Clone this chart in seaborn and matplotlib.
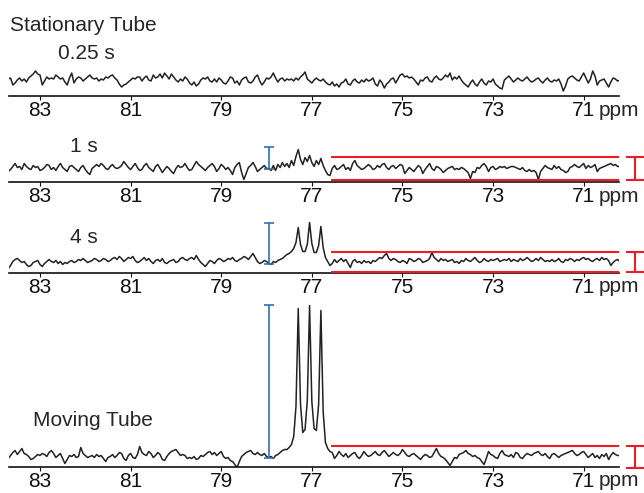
import numpy as np
import pandas as pd
import matplotlib.pyplot as plt
import seaborn as sns

# chemical shift grid (ppm), 83.70 -> 70.20 in 0.05 ppm steps (271 points)
ppm = np.round(np.arange(83.70, 70.19, -0.05), 2)

# intensities (arbitrary units, 0 = baseline), one row = 0.5 ppm
trace_025s = [
    1, 2, -5, -3, 0, 2, -1, 1, -2, 2,
    4, 6, 9, 6, 5, -5, -1, 3, 1, 2,
    1, 5, 3, 1, 2, -2, -5, 2, 7, -3,
    1, 3, 2, -1, 1, 3, 5, 2, 1, 2,
    -1, 1, 0, 3, 2, 4, 5, 2, 0, -4,
    -7, -5, -4, -2, 0, 2, 1, 3, 3, -1,
    2, 4, 0, -1, 5, 2, 3, 6, 2, 7,
    4, 1, 6, 3, 0, -2, 1, -1, 3, 1,
    -3, -5, -2, -6, -4, 0, 2, 1, 3, -1,
    -2, 1, -2, 2, 0, -3, -4, -1, 3, 2,
    -3, -1, -5, 0, 2, 3, -2, -3, -1, 3,
    5, -1, -5, -2, 2, 1, 3, 7, 2, -2,
    1, 2, -1, 1, 0, 1, -1, 2, 0, 3,
    5, 8, 1, -1, -3, 0, 2, 0, -1, 1,
    -2, -4, -5, -2, -6, -4, -7, -3, -2, 1,
    -4, -5, -1, 1, -2, -3, 0, -2, 1, -1,
    0, 2, -4, -6, 0, -3, -8, -4, -2, 1,
    2, -3, 1, 5, 6, 3, 4, 2, 3, 1,
    -2, -5, 0, -1, 2, 3, -1, -2, 2, 4,
    1, 0, 2, 5, 3, 7, 0, 3, 1, 4,
    0, -3, -5, -7, -3, 0, -4, -6, -2, 1,
    -3, -5, -1, -2, 1, -4, -6, -8, -9, 0,
    2, 4, 1, -2, 0, 2, 0, -1, 1, 3,
    0, -2, -1, 1, 2, -1, -3, 0, 2, -1,
    -2, 0, -1, 1, -4, -11, -6, 1, 3, 4,
    2, 0, -1, 3, 7, 2, -3, 1, 9, 4,
    -5, -1, 0, 1, -3, -7, -2, 2, 1, -1,
    0,
]
trace_1s = [
    -3, -1, 2, 5, 1, 2, -1, 5, 2, 0,
    -1, 3, 1, 2, -2, -1, 1, 4, 3, -1,
    1, -2, 2, 5, 1, -1, -3, 2, 3, 1,
    -1, -3, 1, 3, -1, -4, -6, 0, 2, 4,
    2, 5, 3, 0, -1, 2, 4, 1, 0, 1,
    3, 7, 4, 1, -1, 2, 5, 1, -2, -1,
    3, 5, 1, -1, -3, 2, 4, 0, -4, -1,
    2, 0, -3, -5, 0, 3, 1, 2, 5, 1,
    -2, -1, 3, 7, 4, 2, 0, -2, 1, 3,
    5, 2, -3, 0, 4, 2, -1, 1, -2, -6,
    1, 4, 6, -4, -11, -5, 1, 3, 6, 2,
    -3, -1, 1, 3, 0, 0, -2, 3, -2, 4,
    1, 6, 2, 5, 1, 8, 3, 12, 19, 9,
    4, 11, 7, 13, 6, 2, 8, 4, 10, 3,
    -2, -6, -7, 0, 3, -1, 0, 2, 4, -1,
    1, -2, 5, 8, 3, 1, -1, 0, 2, 4,
    2, -1, 0, 3, 1, 4, 5, 1, -1, 2,
    3, 0, 2, 4, 3, -5, -2, 1, -1, -3,
    0, 3, 1, -5, -1, 2, 5, 0, -2, 2,
    1, -1, -4, -2, 0, 1, 2, -1, 0, -1,
    1, 0, -2, -4, -10, -3, -4, 1, 0, 3,
    5, 2, -3, 1, 2, -1, 0, 2, 1, 2,
    0, 1, 2, 2, 1, 0, -1, 1, -2, -3,
    -1, -3, -2, -4, -11, -3, 0, 3, 1, 0,
    -1, 3, 0, 2, -1, -2, -4, -3, 1, 2,
    4, 2, 1, 3, 5, 0, 3, 1, 2, 4,
    -3, 0, 1, 2, 3, 4, 5, 3, 4, 2,
    2,
]
trace_4s = [
    -7, -4, 0, 2, 3, 1, -1, 0, -3, -5,
    -4, -1, 0, 1, -3, -5, -2, 0, 2, 0,
    -1, 1, -2, 0, -3, -1, -2, 0, 1, -1,
    0, 2, 1, 3, 1, -1, 0, 1, 3, 2,
    0, 1, 3, 2, 0, 1, 3, 4, 2, 5,
    3, 0, 2, 4, 3, 5, 1, -1, 0, 2,
    4, 1, 3, 0, -2, 1, 2, 0, 3, -1,
    -2, 0, 1, 2, -1, 0, 3, 4, 2, 1,
    3, 4, 2, 6, 2, -1, -3, -5, -2, 1,
    0, -2, 1, 3, 2, 0, 1, 3, 2, 4,
    1, 0, 2, 3, 5, 4, 2, 5, 8, 4,
    0, -2, -1, 1, 0, -2, -3, 0, -1, 1,
    2, 3, 5, 7, 8, 10, 13, 19, 34, 17,
    10, 10, 17, 39, 18, 9, 9, 16, 35, 14,
    4, 0, -4, -2, 2, -1, 1, 3, 0, 2,
    -2, -6, 0, 2, -1, 0, -2, 1, -1, 0,
    -2, 1, 0, 2, 4, 3, 6, 8, 3, 1,
    3, 2, 0, -1, 1, 0, -2, 3, 2, 0,
    1, 3, 2, -1, 0, 1, 3, 9, 4, 2,
    0, 3, 1, 2, 0, 1, 2, -1, 0, -2,
    1, 0, 3, 1, 0, 2, 4, 1, -1, 0,
    3, 1, 0, 2, 1, 2, 3, 0, 1, 2,
    1, 3, 0, 2, 1, 0, 3, 1, 2, 4,
    2, 0, 1, 3, 1, 4, 2, 0, 1, 0,
    2, 0, 1, 3, 0, -1, 2, 1, 3, 2,
    0, 2, 1, 3, 4, 2, 3, 1, 0, 2,
    3, 1, 4, 2, 3, 1, -4, -1, 1, 2,
    0,
]
trace_moving = [
    -2, 1, 4, 6, 2, 5, 8, 3, 2, 0,
    -3, -2, 0, 2, 1, 3, 2, 0, 4, 6,
    3, -1, 1, 3, -2, -7, -3, 1, 0, 2,
    -1, 0, 9, 3, 1, -1, 0, 1, -1, 2,
    0, 1, -2, -5, -1, 0, 2, -1, 1, 4,
    3, -2, -4, 1, 3, -1, -2, 2, 10, 4,
    2, 1, 5, 3, -1, 1, 4, 2, -3, -4,
    0, 3, 5, 6, 7, 4, 1, 2, 1, -2,
    -1, -2, 0, -3, -2, 1, 0, 2, 4, 5,
    2, 4, 1, 3, 5, 0, -2, -1, -4, -5,
    -8, -11, -5, 0, 2, 4, 5, 6, 3, 2,
    4, 2, 1, 3, 0, -1, 0, -2, 1, 2,
    4, 6, 7, 7, 9, 12, 20, 50, 148, 52,
    24, 27, 56, 151, 55, 28, 26, 52, 146, 45,
    14, 8, 5, 4, -2, 1, 5, 2, 0, 3,
    -1, 1, 3, 4, 0, -2, 1, 5, 2, 0,
    1, 3, 5, 2, 1, 4, 6, 3, 0, 2,
    4, 2, 1, 3, 7, 4, 1, 0, 2, 3,
    1, -1, -3, 0, 2, 1, -1, 0, 4, 8,
    3, 0, -1, -3, -6, -9, -5, -1, -2, 2,
    3, 4, 6, 3, 2, 0, 1, -1, -2, -5,
    -8, -2, 5, 2, 1, -1, -2, 3, 6, 2,
    1, 0, 2, -1, 4, 3, -1, -2, 1, 3,
    2, 1, 3, 4, 5, 2, 1, 3, 0, -2,
    2, 3, 1, -1, 1, 2, 3, 4, 5, 6,
    3, 1, 2, 4, 5, 2, -1, 1, 3, -1,
    1, -2, 2, 0, 3, -3, 1, 4, 2, 1,
    1,
]

traces = [trace_025s, trace_1s, trace_4s, trace_moving]
labels = ["0.25 s", "1 s", "4 s", "Moving Tube"]
header = "Stationary Tube"

tick_vals = [83, 81, 79, 77, 75, 73, 71]
x_min, x_max = 83.68, 70.22

# blue bar = signal height at 77.95 ppm (panels 2-4)
bar_ppm = 77.95
bar_lo = [0, -2.5, -1.2]
bar_hi = [21, 39, 151.5]

# red band = noise range 76.57 -> 70.22 ppm (panels 2-4)
band_start = 76.57
band_lo = [-11.5, -10, -11]
band_hi = [11.5, 10, 11]
band_mark_ppm = 69.87

sns.set_style("white")
plt.rcParams["font.family"] = ["Liberation Sans", "DejaVu Sans"]
fs = 15

W, H = 644, 493
fig = plt.figure(figsize=(W / 100, H / 100), dpi=100)

# layout in pixels: axis line, top of panel, baseline height above axis
panel_bottom = [96, 182, 273, 467]
panel_top = [60, 140, 215, 299]
base_off = [16, 13.5, 11.5, 10.5]
label_xy = [(58, 59.3), (70, 151.7), (70, 243), (33, 425.7)]

trace_col = "#222222"
blue = "#2f6fb7"
red = "#ee1c25"

for k, vals in enumerate(traces):
    bot, top = panel_bottom[k], panel_top[k]
    ax = fig.add_axes([9.2 / W, (H - bot) / H, (619 - 9.2) / W, (bot - top) / H])
    ax.patch.set_alpha(0)
    df = pd.DataFrame({"ppm": ppm, "intensity": vals})
    sns.lineplot(data=df, x="ppm", y="intensity", ax=ax, color=trace_col,
                 lw=1.1, estimator=None, sort=False)
    ax.set_xlim(x_min, x_max)
    ax.set_ylim(-base_off[k], (bot - top) - base_off[k])
    ax.set_xlabel("")
    ax.set_ylabel("")
    ax.set_yticks([])
    ax.set_xticks(tick_vals)
    ax.set_xticklabels([str(v) for v in tick_vals])
    ax.tick_params(axis="x", direction="out", length=3, width=0.8, pad=0.3,
                   colors="#111111", labelsize=fs, bottom=True)
    for side in ["left", "right", "top"]:
        ax.spines[side].set_visible(False)
    ax.spines["bottom"].set_linewidth(1.2)
    ax.spines["bottom"].set_color("#111111")

    if k > 0:
        j = k - 1
        lo, hi = bar_lo[j], bar_hi[j]
        ax.errorbar([bar_ppm], [(lo + hi) / 2], yerr=[(hi - lo) / 2], fmt="none",
                    ecolor=blue, elinewidth=1.2, capsize=3.7, capthick=1.2, zorder=4)
        ax.hlines([band_lo[j], band_hi[j]], band_start, x_max, colors=red,
                  lw=1.5, zorder=5)
        eb = ax.errorbar([band_mark_ppm], [(band_lo[j] + band_hi[j]) / 2],
                         yerr=[(band_hi[j] - band_lo[j]) / 2], fmt="none",
                         ecolor=red, elinewidth=1.5, capsize=6.5, capthick=1.5)
        for art in list(eb.lines[1]) + list(eb.lines[2]):
            art.set_clip_on(False)

    lx, ly = label_xy[k]
    fig.text(lx / W, (H - ly) / H, labels[k], fontsize=fs, va="baseline", ha="left")
    fig.text(599 / W, (H - (bot + 19.5)) / H, "ppm", fontsize=fs, va="baseline", ha="left")

fig.text(10 / W, (H - 31) / H, header, fontsize=fs, va="baseline", ha="left")

fig.savefig("out.png", dpi=100)
